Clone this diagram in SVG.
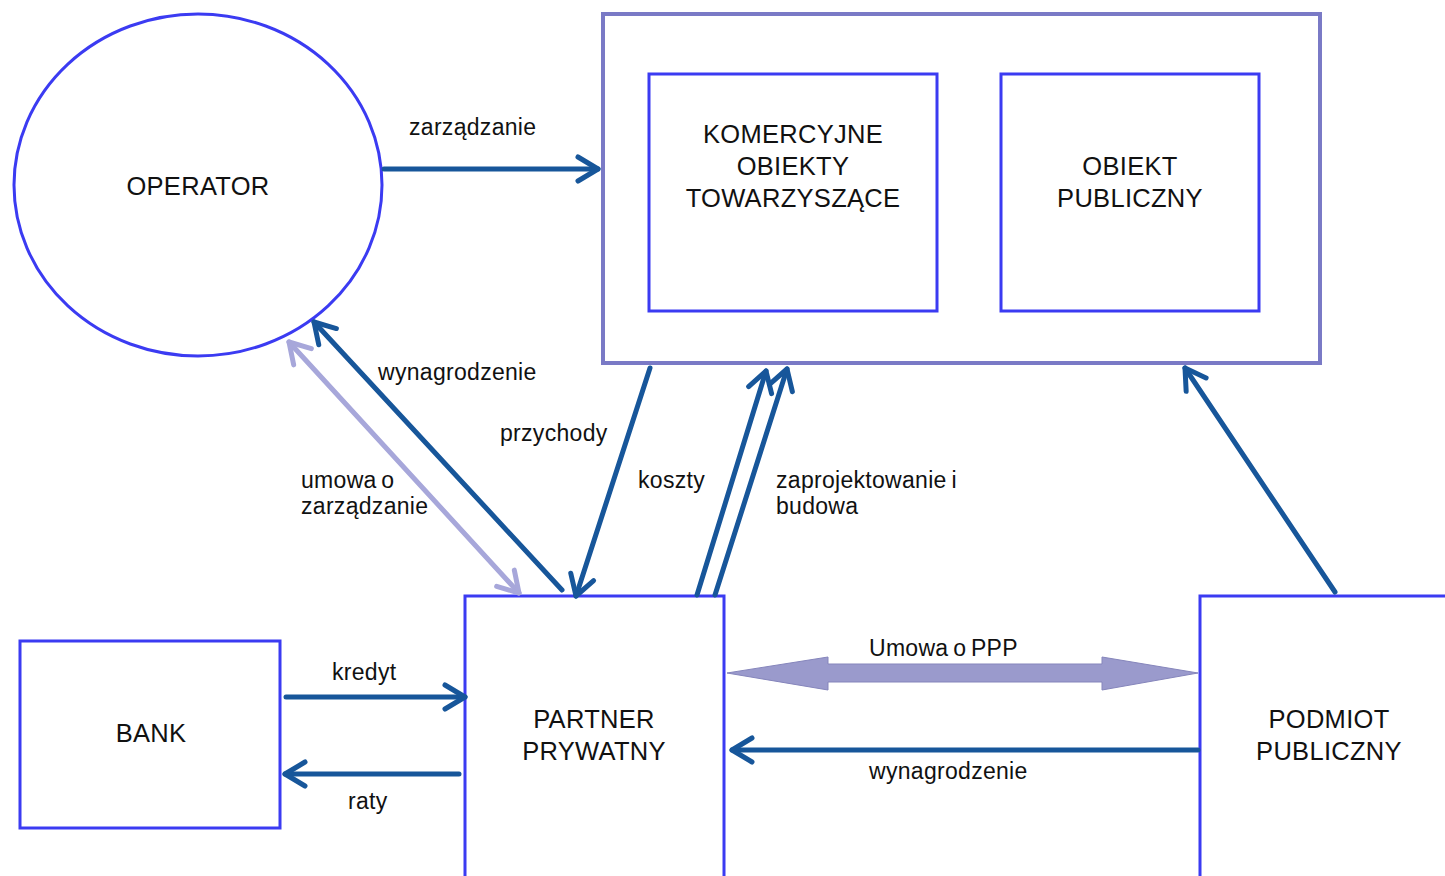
<svg xmlns="http://www.w3.org/2000/svg" width="1445" height="876" viewBox="0 0 1445 876">
  <style>
    .node { fill: #ffffff; stroke: #3b3bf2; stroke-width: 3; }
    .frame { fill: #ffffff; stroke: #7a7ac6; stroke-width: 4; }
    .title { font-family: "Liberation Sans", Arial, sans-serif; font-size: 25.5px; letter-spacing: 0.3px; fill: #111111; text-anchor: middle; }
    .lbl { font-family: "Liberation Sans", Arial, sans-serif; font-size: 23px; letter-spacing: 0.3px; word-spacing: -2px; fill: #111111; }
    .flow { fill: none; stroke: #17569a; stroke-width: 5; stroke-linecap: round; }
    .soft { fill: none; stroke: #a7a7da; stroke-width: 5; stroke-linecap: round; }
  </style>
  <defs>
    <marker id="head" markerUnits="userSpaceOnUse" orient="auto-start-reverse" refX="0" refY="0" markerWidth="40" markerHeight="40" viewBox="-30 -20 40 40" overflow="visible">
      <path d="M-20,-12 L0,0 L-20,12" fill="none" stroke="#17569a" stroke-width="5" stroke-linecap="round" stroke-linejoin="round"/>
    </marker>
    <marker id="headSoft" markerUnits="userSpaceOnUse" orient="auto-start-reverse" refX="0" refY="0" markerWidth="40" markerHeight="40" viewBox="-30 -20 40 40" overflow="visible">
      <path d="M-20,-12 L0,0 L-20,12" fill="none" stroke="#a7a7da" stroke-width="5" stroke-linecap="round" stroke-linejoin="round"/>
    </marker>
  </defs>

  <rect width="1445" height="876" fill="#ffffff"/>

  <!-- nodes -->
  <g id="operator">
    <ellipse class="node" cx="198" cy="185" rx="184" ry="171"/>
    <text class="title" x="198" y="195">OPERATOR</text>
  </g>

  <g id="obiekty">
    <rect class="frame" x="603" y="14" width="717" height="349"/>
  </g>

  <g id="komercyjne">
    <rect class="node" x="649" y="74" width="288" height="237"/>
    <text class="title" x="793" y="143">KOMERCYJNE</text>
    <text class="title" x="793" y="175">OBIEKTY</text>
    <text class="title" x="793" y="207">TOWARZYSZĄCE</text>
  </g>

  <g id="obiekt-publiczny">
    <rect class="node" x="1001" y="74" width="258" height="237"/>
    <text class="title" x="1130" y="175">OBIEKT</text>
    <text class="title" x="1130" y="207">PUBLICZNY</text>
  </g>

  <g id="bank">
    <rect class="node" x="20" y="641" width="260" height="187"/>
    <text class="title" x="151" y="742">BANK</text>
  </g>

  <g id="partner">
    <rect class="node" x="465" y="596" width="259" height="300"/>
    <text class="title" x="594" y="728">PARTNER</text>
    <text class="title" x="594" y="760">PRYWATNY</text>
  </g>

  <g id="podmiot">
    <rect class="node" x="1200" y="596" width="260" height="300"/>
    <text class="title" x="1329" y="728">PODMIOT</text>
    <text class="title" x="1329" y="760">PUBLICZNY</text>
  </g>

  <!-- connectors -->
  <g id="connectors">
    <line class="flow" x1="384" y1="169" x2="598" y2="169" marker-end="url(#head)"/>
    <line class="flow" x1="562" y1="590" x2="314" y2="322" marker-end="url(#head)"/>
    <line class="soft" x1="289" y1="342" x2="519" y2="593" marker-start="url(#headSoft)" marker-end="url(#headSoft)"/>
    <line class="flow" x1="650" y1="368" x2="576" y2="596" marker-end="url(#head)"/>
    <line class="flow" x1="697" y1="595" x2="766" y2="371" marker-end="url(#head)"/>
    <line class="flow" x1="715" y1="595" x2="787" y2="369" marker-end="url(#head)"/>
    <line class="flow" x1="1335" y1="592" x2="1185" y2="368" marker-end="url(#head)"/>
    <polygon points="727,673 828,657 828,664 1102,664 1102,657 1198,673 1102,690 1102,682 828,682 828,690" fill="#9a9acc" stroke="#8585bb" stroke-width="1"/>
    <line class="flow" x1="1198" y1="750" x2="732" y2="750" marker-end="url(#head)"/>
    <line class="flow" x1="286" y1="697" x2="465" y2="697" marker-end="url(#head)"/>
    <line class="flow" x1="459" y1="774" x2="285" y2="774" marker-end="url(#head)"/>
  </g>

  <!-- connector labels -->
  <g id="labels">
    <text class="lbl" x="409" y="135">zarządzanie</text>
    <text class="lbl" x="378" y="380">wynagrodzenie</text>
    <text class="lbl" x="500" y="441">przychody</text>
    <text class="lbl" x="301" y="488">umowa o</text>
    <text class="lbl" x="301" y="514">zarządzanie</text>
    <text class="lbl" x="638" y="488">koszty</text>
    <text class="lbl" x="776" y="488">zaprojektowanie i</text>
    <text class="lbl" x="776" y="514">budowa</text>
    <text class="lbl" x="869" y="656">Umowa o PPP</text>
    <text class="lbl" x="869" y="779">wynagrodzenie</text>
    <text class="lbl" x="332" y="680">kredyt</text>
    <text class="lbl" x="348" y="809">raty</text>
  </g>
</svg>
